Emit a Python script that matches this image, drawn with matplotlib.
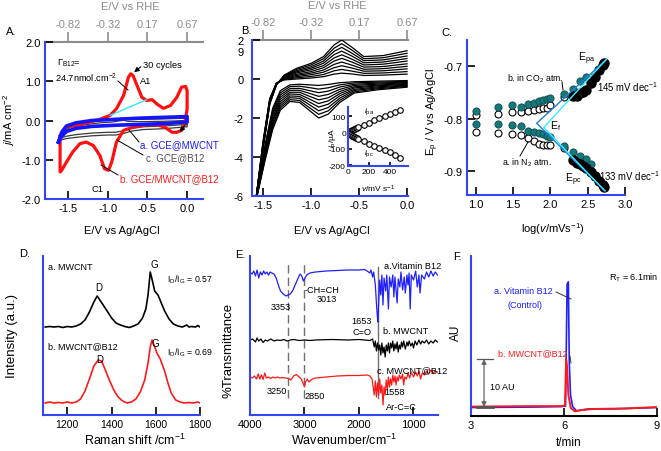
import matplotlib
matplotlib.use('Agg')
import matplotlib.pyplot as plt
from matplotlib.lines import Line2D
from matplotlib.patches import FancyArrowPatch

plt.rcParams['font.family'] = ['Liberation Sans', 'DejaVu Sans']
plt.rcParams['mathtext.fontset'] = 'custom'
plt.rcParams['mathtext.rm'] = 'Liberation Sans'
plt.rcParams['mathtext.it'] = 'Liberation Sans:italic'
plt.rcParams['mathtext.bf'] = 'Liberation Sans:bold'
plt.rcParams['axes.unicode_minus'] = False

# ---------------- data ----------------
# A: CVs (E vs Ag/AgCl, j in mA cm-2)
a_red_x = [-1.60, -1.52, -1.31, -1.10, -0.97, -0.89, -0.80, -0.74, -0.71, -0.68, -0.63, -0.57, -0.51,
           -0.44, -0.38, -0.30, -0.21, -0.13, -0.07, -0.02, 0.0, 0.0, -0.02, -0.07, -0.13, -0.19, -0.28,
           -0.38, -0.51, -0.68, -0.80, -0.89, -0.95, -0.99, -1.04, -1.10, -1.18, -1.27, -1.35, -1.44,
           -1.52, -1.58, -1.60, -1.60]
a_red_y = [-0.40, -0.17, -0.085, 0.03, 0.13, 0.30, 0.64, 1.10, 1.19, 1.14, 0.89, 0.59, 0.51,
           0.53, 0.42, 0.31, 0.38, 0.59, 0.85, 0.87, 0.76, 0.30, 0.04, -0.25, -0.30, -0.30, -0.17,
           -0.11, -0.11, -0.17, -0.25, -0.55, -1.06, -1.27, -1.23, -0.89, -0.64, -0.55, -0.59, -0.80,
           -1.06, -1.27, -1.31, -0.40]
a_blue_x = [-1.62, -1.58, -1.52, -1.4, -1.2, -0.9, -0.6, -0.3, 0.0, 0.0, -0.3, -0.6, -0.9, -1.2, -1.4,
            -1.52, -1.58, -1.62]
a_blue_y = [-0.55, -0.30, -0.14, -0.06, 0.0, 0.03, 0.06, 0.08, 0.10, -0.04, -0.08, -0.10, -0.12, -0.15,
            -0.20, -0.28, -0.40, -0.55]
a_blk_x = [-1.60, -1.55, -1.45, -1.30, -1.10, -0.95, -0.85, -0.80, -0.75, -0.60, -0.30, 0.0, 0.0, -0.30,
           -0.55, -0.70, -0.80, -0.90, -1.00, -1.20, -1.40, -1.52, -1.60]
a_blk_y1 = [-0.45, -0.20, -0.10, -0.05, 0.0, 0.02, 0.05, 0.07, 0.04, 0.03, 0.04, 0.06, -0.10, -0.14,
            -0.16, -0.20, -0.26, -0.30, -0.30, -0.32, -0.36, -0.40, -0.45]
a_blk_y2 = [-0.50, -0.26, -0.16, -0.11, -0.06, -0.04, -0.01, 0.01, -0.02, -0.03, -0.02, 0.0, -0.16, -0.21,
            -0.23, -0.27, -0.33, -0.37, -0.37, -0.39, -0.43, -0.46, -0.50]
a_base_x = [-0.97, -0.51]
a_base_y = [0.13, 0.53]

# B: scan-rate family of CVs
b_dn_x = [0.0, -0.3, -0.55, -0.7, -0.82, -0.92, -1.02, -1.12, -1.22, -1.32, -1.4, -1.48, -1.58]
b_up_x = [-1.58, -1.5, -1.43, -1.36, -1.28, -1.15, -1.0, -0.87, -0.76, -0.68, -0.58, -0.45, -0.25, 0.0]
b_dn = [
    [-0.08, -0.11, -0.14, -0.19, -0.28, -0.33, -0.30, -0.27, -0.30, -0.60, -1.50, -3.40, -6.4],
    [-0.12, -0.16, -0.20, -0.30, -0.45, -0.52, -0.44, -0.37, -0.39, -0.71, -1.62, -3.49, -6.4],
    [-0.16, -0.21, -0.27, -0.41, -0.62, -0.70, -0.59, -0.48, -0.49, -0.82, -1.74, -3.58, -6.4],
    [-0.19, -0.26, -0.33, -0.53, -0.79, -0.89, -0.73, -0.58, -0.58, -0.93, -1.87, -3.67, -6.4],
    [-0.23, -0.31, -0.40, -0.64, -0.96, -1.07, -0.88, -0.68, -0.68, -1.04, -1.99, -3.76, -6.4],
    [-0.27, -0.35, -0.46, -0.75, -1.12, -1.26, -1.02, -0.79, -0.77, -1.16, -2.11, -3.84, -6.4],
    [-0.31, -0.40, -0.53, -0.86, -1.29, -1.44, -1.17, -0.89, -0.87, -1.27, -2.23, -3.93, -6.4],
    [-0.34, -0.45, -0.59, -0.98, -1.46, -1.63, -1.31, -0.99, -0.96, -1.38, -2.36, -4.02, -6.4],
    [-0.38, -0.50, -0.66, -1.09, -1.63, -1.81, -1.46, -1.10, -1.06, -1.49, -2.48, -4.11, -6.4],
    [-0.42, -0.55, -0.72, -1.20, -1.80, -2.00, -1.60, -1.20, -1.15, -1.60, -2.60, -4.20, -6.4],
]
b_up = [
    [-6.4, -3.20, -1.00, -0.20, -0.05, 0.00, 0.05, 0.12, 0.25, 0.30, 0.26, 0.18, 0.20, 0.25],
    [-6.4, -3.24, -1.03, -0.21, -0.02, 0.06, 0.13, 0.23, 0.42, 0.49, 0.41, 0.29, 0.31, 0.38],
    [-6.4, -3.29, -1.07, -0.22, 0.01, 0.12, 0.22, 0.35, 0.58, 0.68, 0.57, 0.40, 0.42, 0.52],
    [-6.4, -3.33, -1.10, -0.23, 0.03, 0.18, 0.30, 0.46, 0.75, 0.87, 0.72, 0.50, 0.53, 0.65],
    [-6.4, -3.38, -1.13, -0.24, 0.06, 0.24, 0.38, 0.58, 0.92, 1.06, 0.88, 0.61, 0.64, 0.78],
    [-6.4, -3.42, -1.17, -0.26, 0.09, 0.31, 0.47, 0.69, 1.08, 1.24, 1.03, 0.72, 0.76, 0.92],
    [-6.4, -3.47, -1.20, -0.27, 0.12, 0.37, 0.55, 0.81, 1.25, 1.43, 1.19, 0.83, 0.87, 1.05],
    [-6.4, -3.51, -1.23, -0.28, 0.14, 0.43, 0.63, 0.92, 1.42, 1.62, 1.34, 0.94, 0.98, 1.18],
    [-6.4, -3.56, -1.27, -0.29, 0.17, 0.49, 0.72, 1.04, 1.58, 1.81, 1.50, 1.04, 1.09, 1.32],
    [-6.4, -3.60, -1.30, -0.30, 0.20, 0.55, 0.80, 1.15, 1.75, 2.00, 1.65, 1.15, 1.20, 1.45],
]
scan_v = [10, 20, 30, 40, 50, 60, 70, 80, 90, 100, 150, 200, 250, 300, 350, 400, 450, 500]
ipa = [4, 8, 11, 14, 17, 20, 23, 26, 29, 32, 47, 60, 73, 86, 98, 110, 123, 138]
ipc = [-8, -12, -16, -20, -23, -27, -30, -34, -37, -40, -55, -70, -83, -96, -108, -121, -136, -155]

# C: peak potentials vs log(v)
logv_co2_a = [1.0, 1.3, 1.48, 1.6, 1.7, 1.78, 1.85, 1.9, 1.95, 2.0, 2.18, 2.3, 2.4, 2.48]
epa_co2 = [-0.786, -0.777, -0.775, -0.777, -0.773, -0.770, -0.767, -0.765, -0.763, -0.760, -0.754,
           -0.743, -0.729, -0.720]
logv_co2_c = [1.0, 1.3, 1.48, 1.6, 1.7, 1.78, 1.85, 1.9, 1.95, 2.0, 2.18, 2.3, 2.4, 2.48, 2.54]
epc_co2 = [-0.811, -0.811, -0.813, -0.814, -0.823, -0.826, -0.827, -0.830, -0.833, -0.835, -0.852,
           -0.864, -0.871, -0.878, -0.887]
logv_n2 = [1.0, 1.3, 1.48, 1.6, 1.7, 1.78, 1.85, 1.9, 1.95, 2.0, 2.18]
epa_n2 = [-0.794, -0.792, -0.788, -0.788, -0.786, -0.783, -0.781, -0.779, -0.779, -0.775, -0.759]
epc_n2 = [-0.826, -0.827, -0.830, -0.832, -0.838, -0.843, -0.849, -0.850, -0.851, -0.850, -0.857]
logv_hi = [2.3, 2.35, 2.4, 2.44, 2.48, 2.54, 2.6, 2.65, 2.7, 2.72]
epa_hi = [-0.757, -0.756, -0.752, -0.749, -0.745, -0.733, -0.720, -0.708, -0.697, -0.694]
epc_hi = [-0.880, -0.884, -0.887, -0.891, -0.894, -0.902, -0.910, -0.919, -0.927, -0.931]
fit1_x = [2.75, 1.815, 2.73]
fit1_y = [-0.687, -0.809, -0.938]
fit2_x = [2.75, 1.91, 2.73]
fit2_y = [-0.687, -0.817, -0.938]

# D: Raman
raman_a_x = [1100, 1120, 1140, 1160, 1180, 1200, 1220, 1240, 1260, 1280, 1300, 1320, 1335, 1350, 1365,
             1380, 1400, 1420, 1440, 1460, 1480, 1500, 1520, 1540, 1555, 1565, 1575, 1585, 1595, 1610,
             1625, 1640, 1660, 1680, 1700, 1720, 1740, 1750, 1760, 1780, 1790, 1800]
raman_a_y = [88, 88.5, 88, 88.5, 87.5, 88.5, 88, 89, 91, 95, 103, 113, 119, 114, 109,
             104, 97, 92, 90, 88.5, 87.5, 89, 91, 97, 106, 120, 143, 134, 124, 120,
             112, 104, 96, 91, 89, 88, 90, 88, 88.5, 88, 89.5, 88]
raman_b_x = [1100, 1120, 1140, 1160, 1180, 1200, 1220, 1240, 1260, 1280, 1300, 1320, 1340, 1355, 1370,
             1390, 1410, 1430, 1450, 1470, 1490, 1510, 1530, 1550, 1565, 1575, 1583, 1592, 1605, 1620,
             1640, 1655, 1670, 1690, 1710, 1730, 1750, 1770, 1790, 1800]
raman_b_y = [12, 13, 12, 12.5, 12, 13, 12, 13, 16, 24, 36, 49, 55, 54, 46,
             35, 25, 18, 14, 12, 13, 16, 23, 35, 52, 68, 75, 70, 62, 56,
             44, 32, 22, 15, 13, 12, 12.5, 12, 13, 12]

# E: FTIR
ir_blue_wn = [4000, 3960, 3930, 3900, 3870, 3840, 3810, 3780, 3750, 3720, 3690, 3660, 3630, 3600, 3560,
              3520, 3480, 3440, 3390, 3340, 3300, 3260, 3220, 3180, 3140, 3100, 3080, 3050, 3020, 3000,
              2960, 2900, 2800, 2600, 2400, 2200, 2000, 1900, 1850, 1800, 1780, 1750, 1730, 1700, 1680,
              1665, 1653, 1640, 1620, 1600, 1580, 1560, 1540, 1510, 1490, 1460, 1440, 1410, 1380, 1360,
              1340, 1300, 1280, 1250, 1230, 1200, 1170, 1150, 1120, 1100, 1080, 1060, 1040, 1000, 960,
              930, 900, 880, 850, 800, 760, 720, 680, 640, 600, 560]
ir_blue_t = [142.7, 141, 144, 139, 145, 137, 143, 140, 144, 141, 143, 140, 143, 142, 141,
             137, 130, 124, 121, 119, 120, 121, 124, 129, 134, 139, 141, 139, 134, 136,
             140, 142, 143, 144, 144.5, 145, 145, 145.5, 144, 142, 145, 138, 143, 130, 112,
             100, 93, 110, 135, 120, 140, 110, 137, 124, 140, 106, 138, 128, 140, 118,
             138, 112, 136, 128, 143, 125, 138, 122, 140, 130, 142, 106, 140, 135, 144,
             128, 140, 122, 140, 136, 143, 138, 144, 139, 143, 140]
ir_black_wn = [4000, 3950, 3900, 3870, 3840, 3800, 3760, 3720, 3680, 3620, 3560, 3500, 3440, 3380, 3320,
               3260, 3200, 3100, 3000, 2900, 2800, 2500, 2200, 2000, 1800, 1750, 1720, 1700, 1680, 1660,
               1640, 1620, 1600, 1580, 1560, 1540, 1520, 1500, 1480, 1460, 1440, 1420, 1400, 1380, 1360,
               1340, 1320, 1300, 1280, 1260, 1240, 1220, 1200, 1180, 1150, 1120, 1100, 1080, 1050, 1020,
               1000, 970, 940, 900, 870, 840, 800, 760, 720, 680, 640, 600, 560]
ir_black_t = [75, 76, 73, 77, 74, 76, 72.5, 75, 74, 76, 74, 75, 74.5, 75.5, 74,
              75, 75.5, 74.5, 75, 74.5, 75, 75.5, 75, 75.5, 74.5, 76, 68, 74, 64, 72,
              65, 70, 60, 72, 62, 68, 58, 70, 64, 72, 62, 72, 67, 74, 64,
              71, 66, 73, 63, 70, 66, 73, 68, 74, 66, 73, 69, 74, 69, 72,
              67, 74, 70, 75, 71, 74, 72, 75, 71, 74, 72, 75, 73]
ir_red_wn = [4000, 3960, 3920, 3880, 3850, 3820, 3790, 3760, 3730, 3700, 3660, 3620, 3580, 3540, 3500,
             3450, 3400, 3350, 3300, 3250, 3200, 3150, 3100, 3060, 3020, 3000, 2980, 2950, 2920, 2880,
             2850, 2800, 2700, 2600, 2400, 2200, 2000, 1850, 1800, 1760, 1740, 1720, 1700, 1680, 1660,
             1640, 1620, 1600, 1580, 1558, 1540, 1520, 1500, 1480, 1460, 1440, 1420, 1400, 1380, 1360,
             1340, 1320, 1300, 1280, 1260, 1230, 1200, 1180, 1160, 1130, 1100, 1070, 1040, 1000, 960,
             930, 900, 870, 840, 800, 760, 720, 680, 640, 600, 560]
ir_red_t = [38, 37, 39, 36, 41, 36, 40, 35.5, 42, 37, 38, 36.5, 38, 37, 38,
            37, 37.5, 37, 36.5, 35, 39, 40.5, 38, 36, 31, 28, 33, 36, 33, 35,
            36, 37, 37.5, 38, 39, 39.5, 39.5, 40, 39, 36, 28, 20, 34, 18, 32,
            20, 36, 22, 30, 10, 28, 20, 35, 26, 38, 28, 36, 30, 40, 33,
            39, 30, 38, 34, 40, 36, 41, 30, 38, 36, 42, 37, 43, 38, 43,
            39, 44, 36, 42, 40, 44, 41, 45, 42, 44, 43]
ir_dashed = [3300, 3013]
ir_solid = [1653]

# F: HPLC
hplc_t_a = [3.0, 4.0, 5.0, 5.9, 6.05, 6.1, 6.14, 6.17, 6.21, 6.28, 6.4, 6.8, 7.5, 8.5, 9.0]
hplc_a = [0.3, 0.35, 0.4, 0.5, 0.6, 26.5, 27, 10, 3, 0.5, -0.4, 0.0, 0.0, 0.2, 0.3]
hplc_t_b = [3.0, 4.0, 5.0, 5.9, 6.03, 6.07, 6.1, 6.14, 6.22, 6.35, 6.6, 7.0, 8.0, 9.0]
hplc_b = [0.5, 0.55, 0.6, 0.6, 0.7, 10.5, 9, 3, 0.2, -0.5, -0.2, 0.0, 0.1, 0.4]

# ---------------- drawing ----------------
W, H = 661, 452
SPINE = '#3346f2'
GRAY = '#8c8c8c'

fig = plt.figure(figsize=(W / 100, H / 100), dpi=100)


def add_ax(l, t, r, b):
    return fig.add_axes([l / W, 1 - b / H, (r - l) / W, (b - t) / H])


def style(ax, bottom=SPINE, size=8, length=6):
    for s in ['top', 'right']:
        ax.spines[s].set_visible(False)
    ax.spines['left'].set_color(SPINE)
    ax.spines['bottom'].set_color(bottom)
    ax.spines['left'].set_linewidth(1.5)
    ax.spines['bottom'].set_linewidth(1.5)
    ax.tick_params(direction='in', length=length, width=1.2, color='black', labelsize=size, pad=3)


def rhe_axis(ax):
    sec = ax.secondary_xaxis('top')
    sec.set_xticks([-1.5, -1.0, -0.5, 0.0], labels=['-0.82', '-0.32', '0.17', '0.67'])
    sec.tick_params(direction='out', length=7, width=1.2, color=GRAY, labelcolor=GRAY, labelsize=8, pad=2)
    sec.spines['top'].set_color(GRAY)
    sec.spines['top'].set_linewidth(1.5)


def txt(x, y, s, ha='left', size=6.7, **kw):
    fig.text(x / W, 1 - y / H, s, ha=ha, va='center', fontsize=size, **kw)


def seg(x0, y0, x1, y1, color='black', lw=0.7):
    fig.add_artist(Line2D([x0 / W, x1 / W], [1 - y0 / H, 1 - y1 / H], transform=fig.transFigure,
                          color=color, lw=lw))


def arrow(x0, y0, x1, y1, color='black', style='-|>', lw=0.8):
    fig.add_artist(FancyArrowPatch((x0 / W, 1 - y0 / H), (x1 / W, 1 - y1 / H), transform=fig.transFigure,
                                   arrowstyle=style, mutation_scale=7, color=color, lw=lw))


# ---- A ----
axA = add_ax(45, 43, 203, 200)
style(axA)
axA.plot(a_blk_x, a_blk_y1, color='#3a3a3a', lw=0.9)
axA.plot(a_blk_x, a_blk_y2, color='#3a3a3a', lw=0.9)
axA.plot(a_red_x, a_red_y, color='#ff1010', lw=2.3)
axA.plot(a_blue_x, a_blue_y, color='#1414ff', lw=2.6)
axA.plot(a_base_x, a_base_y, color='#33e6ff', lw=1.0)
axA.set_xlim(-1.79, 0.2)
axA.set_ylim(-2, 2)
axA.set_xticks([-1.5, -1.0, -0.5, 0.0], labels=['-1.5', '-1.0', '-0.5', '0.0'])
axA.set_yticks([-2, -1, 0, 1, 2], labels=['-2.0', '-1.0', '0.0', '1.0', '2.0'])
rhe_axis(axA)

# ---- B ----
axB = add_ax(252, 41, 408, 197)
style(axB)
for dn, up in zip(b_dn, b_up):
    axB.plot(b_dn_x + b_up_x, dn + up, color='black', lw=0.9)
axB.set_xlim(-1.615, 0.01)
axB.set_ylim(-6, 2)
axB.set_xticks([-1.5, -1.0, -0.5, 0.0], labels=['-1.5', '-1.0', '-0.5', '0.0'])
axB.set_yticks([-6, -4, -2, 0, 2])
axB.tick_params(axis='y', pad=6)
rhe_axis(axB)

axI = add_ax(348, 108, 408, 167)
style(axI, size=6, length=3)
axI.patch.set_alpha(0)
axI.plot(scan_v, ipa, 'o', ms=4, mfc='white', mec='black', mew=0.8)
axI.plot(scan_v, ipc, 'o', ms=4, mfc='white', mec='black', mew=0.8)
axI.set_xlim(0, 573)
axI.set_ylim(-205, 155)
axI.set_xticks([0, 200, 400])
axI.set_yticks([-200, -100, 0, 100])
axI.tick_params(pad=1.5)

# ---- C ----
axC = add_ax(467, 41, 625, 196)
style(axC)
axC.plot(logv_n2, epa_n2, 'o', ms=5, mfc='white', mec='black', mew=0.8)
axC.plot(logv_n2, epc_n2, 'o', ms=5, mfc='white', mec='black', mew=0.8)
axC.plot(logv_co2_a, epa_co2, 'o', ms=5.2, mfc='#17787c', mec='#0c4a4d', mew=0.6)
axC.plot(logv_co2_c, epc_co2, 'o', ms=5.2, mfc='#17787c', mec='#0c4a4d', mew=0.6)
axC.plot(logv_hi, epa_hi, 'o', ms=6.5, color='black')
axC.plot(logv_hi, epc_hi, 'o', ms=6.5, color='black')
axC.plot(fit1_x, fit1_y, color='#1f7fe0', lw=1.0)
axC.plot(fit2_x, fit2_y, color='#33f0ff', lw=1.0)
axC.set_xlim(0.88, 3.0)
axC.set_ylim(-0.946, -0.65)
axC.set_xticks([1.0, 1.5, 2.0, 2.5, 3.0], labels=['1.0', '1.5', '2.0', '2.5', '3.0'])
axC.set_yticks([-0.9, -0.8, -0.7], labels=['-0.9', '-0.8', '-0.7'])

# ---- D ----
axD = add_ax(43, 257, 200, 416)
style(axD, size=7.5)
axD.plot(raman_a_x, raman_a_y, color='black', lw=1.2)
axD.plot(raman_b_x, raman_b_y, color='#ff1a1a', lw=1.2)
axD.set_xlim(1090, 1800)
axD.set_ylim(0, 159)
axD.set_xticks([1200, 1400, 1600, 1800])
axD.set_yticks([])

# ---- E ----
axE = add_ax(250, 257, 438, 416)
style(axE, size=8)
for wn in ir_dashed:
    axE.axvline(wn, ymin=0.11, ymax=0.96, color='#707070', lw=1.0, ls=(0, (6, 3)))
for wn in ir_solid:
    axE.axvline(wn, ymin=0.11, ymax=0.93, color='#707070', lw=1.0)
axE.plot(ir_blue_wn, ir_blue_t, color='#1f1fff', lw=0.9)
axE.plot(ir_black_wn, ir_black_t, color='black', lw=0.9)
axE.plot(ir_red_wn, ir_red_t, color='#ff1a1a', lw=0.9)
axE.set_xlim(4000, 550)
axE.set_ylim(0, 159)
axE.set_xticks([4000, 3000, 2000, 1000])
axE.set_yticks([])

# ---- F ----
axF = add_ax(471, 257, 657, 417)
style(axF, bottom='black', size=8)
axF.plot(hplc_t_a, hplc_a, color='#1f1fff', lw=1.2)
axF.plot(hplc_t_b, hplc_b, color='#ff1a1a', lw=1.4)
axF.set_xlim(3, 9)
axF.set_ylim(-1.5, 32.5)
axF.set_xticks([3, 6, 9])
axF.set_yticks([])
axF.annotate('', xy=(3.42, 0.4), xytext=(3.42, 10.6),
             arrowprops=dict(arrowstyle='<|-|>', color='#666666', lw=0.9, mutation_scale=7,
                             shrinkA=0, shrinkB=0))
axF.plot([3.2, 3.7], [10.6, 10.6], color='#555555', lw=0.9)
axF.plot([3.2, 3.7], [0.4, 0.4], color='#555555', lw=2.0)

# ---------------- text ----------------
# axis labels
txt(9, 120, r'$j$/mA cm$^{-2}$', ha='center', size=8, rotation=90)
txt(122, 231, 'E/V vs Ag/AgCl', ha='center', size=8)
txt(332, 231, 'E/V vs Ag/AgCl', ha='center', size=8)
txt(130, 7, 'E/V vs RHE', ha='center', size=8, color=GRAY)
txt(337, 6, 'E/V vs RHE', ha='center', size=8, color=GRAY)
txt(433, 112, r'E$_{\rm p}$ / V vs Ag/AgCl', ha='center', size=8, rotation=90)
txt(553, 229, r'log($v$/mVs$^{-1}$)', ha='center', size=8)
txt(12, 336, 'Intensity (a.u.)', ha='center', size=9.5, rotation=90)
txt(135, 440, r'Raman shift /cm$^{-1}$', ha='center', size=9)
txt(229, 350, '%Transmittance', ha='center', size=9.5, rotation=90)
txt(344, 440, r'Wavenumber/cm$^{-1}$', ha='center', size=9)
txt(456, 333, 'AU', ha='center', size=8.5, rotation=90)
txt(569, 443, 't/min', ha='center', size=8.5)

# panel letters
for x, y, s in [(11, 32, 'A.'), (246, 31, 'B.'), (447, 33, 'C.'), (25, 254, 'D.'), (240, 255, 'E.'),
                (457, 257, 'F.')]:
    txt(x, y, s, ha='center', size=8)

# A annotations
txt(57, 63, r'$\Gamma_{\rm B12}$=', size=6.7)
txt(55, 78, r'24.7nmol.cm$^{-2}$', size=6.7)
txt(143, 65, '30 cycles', size=6.7)
txt(140, 82, 'A1', size=6.7)
txt(91, 190, 'C1', size=6.7)
txt(140, 145, 'a. GCE@MWCNT', size=7, color='#1a1aff')
txt(146, 158, 'c. GCE@B12', size=7, color='#505050')
txt(120, 179, 'b. GCE/MWCNT@B12', size=7, color='#ff1a1a')
arrow(143, 66, 132, 75)
arrow(187, 124, 178, 135)
seg(118, 82, 128, 91)
seg(139, 143, 129, 131)
seg(143, 156, 117, 141)
seg(118, 176, 101, 166)

# B annotations
txt(238, 53, '9', size=8)
txt(333, 138, r'$i_{\rm p}$/µA', ha='center', size=6, rotation=90)
txt(378, 189, r'$v$/mV s$^{-1}$', ha='center', size=6)
txt(369, 112, r'$i_{\rm pa}$', ha='center', size=6)
txt(369, 154, r'$i_{\rm pc}$', ha='center', size=6)

# C annotations
txt(587, 59, r'E$_{\rm pa}$', ha='center', size=7.5)
txt(597, 87, r'145 mV dec$^{-1}$', size=6.9)
txt(563, 79, r'b. in CO$_2$ atm.', ha='right', size=6.3)
seg(562, 83, 563, 91)
txt(556, 126, r'E$_{\rm f}$', ha='center', size=7.5)
txt(527, 163, r'a. in N$_2$ atm.', ha='center', size=6.3)
seg(520, 157, 528, 143)
txt(573, 180, r'E$_{\rm pc}$', ha='center', size=7.5)
txt(599, 176, r'133 mV dec$^{-1}$', size=6.9)

# D annotations
txt(48, 268, 'a. MWCNT', size=6.5)
txt(154, 265, 'G', ha='center', size=7)
txt(167, 280, r'I$_{\rm D}$/I$_{\rm G}$ = 0.57', size=6.3)
txt(99, 288, 'D', ha='center', size=7)
txt(48, 347, 'b. MWCNT@B12', size=6.5)
txt(155, 344, 'G', ha='center', size=7)
txt(167, 353, r'I$_{\rm D}$/I$_{\rm G}$ = 0.69', size=6.3)
txt(100, 360, 'D', ha='center', size=7)

# E annotations
txt(413, 267, 'a.Vitamin B12', ha='center', size=6.6)
txt(281, 308, '3353', ha='center', size=6.6)
txt(305, 291, '-CH=CH', size=6.6)
txt(327, 300, '3013', ha='center', size=6.6)
txt(362, 322, '1653', ha='center', size=6.6)
txt(362, 333, 'C=O', ha='center', size=6.6)
txt(406, 332, 'b. MWCNT', ha='center', size=6.6)
txt(412, 371, 'c. MWCNT@B12', ha='center', size=6.6)
txt(277, 392, '3250', ha='center', size=6.6)
txt(315, 397, '2850', ha='center', size=6.6)
txt(395, 393, '1558', ha='center', size=6.6)
txt(401, 408, 'Ar-C=C', ha='center', size=6.6)

# F annotations
txt(634, 278, r'R$_{\rm T}$ = 6.1min', ha='center', size=6.5)
txt(553, 292, 'a. Vitamin B12', ha='right', size=6.5, color='#1a1aff')
txt(525, 305, '(Control)', ha='center', size=6.5, color='#1a1aff')
seg(556, 293, 571, 300, color='#333333')
txt(568, 354, 'b. MWCNT@B12', ha='right', size=6.5, color='#ff1a1a')
seg(570, 357, 571, 364, color='#333333')
txt(490, 387, '10 AU', size=6.5)

fig.savefig('out.png', dpi=100)
